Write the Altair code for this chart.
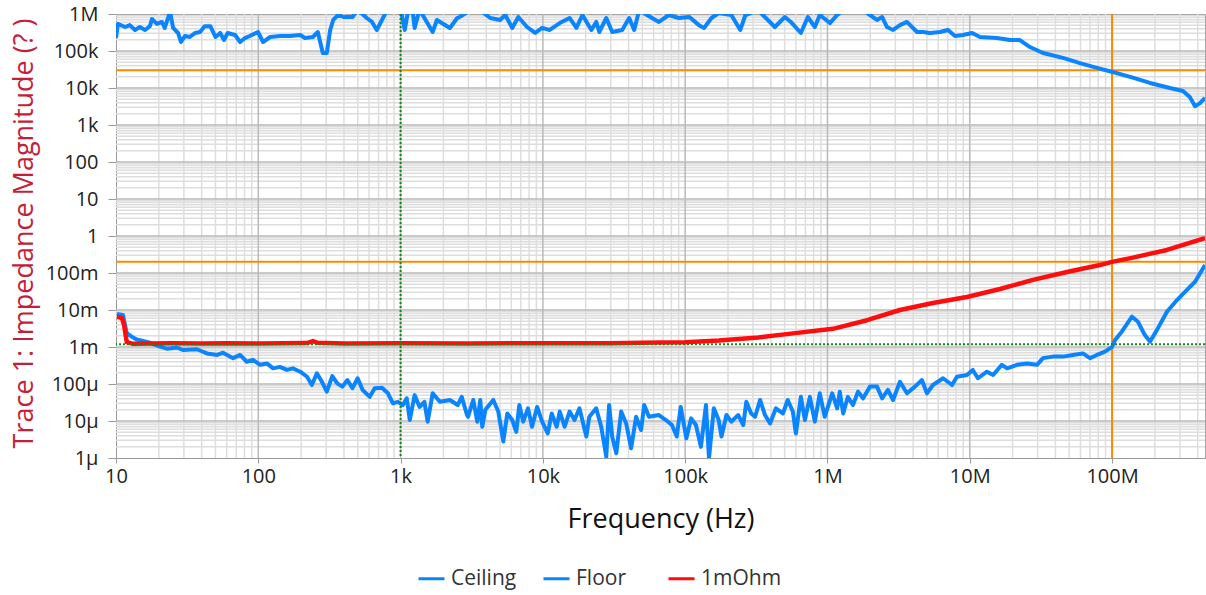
import altair as alt
import pandas as pd

# ---------------- data ----------------
ceil_f = [10, 10.3, 11.6, 12.5, 13.6, 14.7, 16.0, 17.3, 17.9, 19.4, 21, 22, 24, 25.2, 27.3, 28.6,
          30.5, 33, 36, 39, 42, 46, 50, 54, 57.4, 61, 68.7, 74.5, 80.6, 87, 99.5, 108, 121, 142,
          167, 197, 213, 242, 262, 284, 303, 320, 336, 364, 396, 459, 499, 578, 630, 680, 752,
          815, 1000, 1070, 1120, 1210, 1255, 1360, 1680, 1800, 2220, 2500, 2600, 3080, 3630,
          4270, 5000, 5440, 6090, 6720, 7740, 8820, 9880, 11180, 13130, 15400, 17200, 18960,
          21900, 23700, 24900, 27900, 30700, 36100, 40400, 43800, 47500, 58500, 65400, 76700,
          90100, 107000, 125000, 136000, 153000, 172000, 211000, 244000, 265000, 326000, 427000,
          502000, 553000, 650000, 728000, 815000, 883000, 1.04e6, 1.17e6, 1.29e6, 1.78e6, 1.99e6,
          2.23e6, 2.42e6, 2.62e6, 2.89e6, 3.23e6, 3.62e6, 4.26e6, 4.69e6, 5.25e6, 6.18e6, 7.03e6,
          7.87e6, 8.96e6, 1.04e7, 1.18e7, 1.55e7, 1.92e7, 2.25e7, 2.65e7, 3.27e7, 4.52e7, 5.95e7,
          7.83e7, 1.01e8, 1.34e8, 1.85e8, 2.55e8, 3.15e8, 3.52e8, 3.83e8, 4.15e8, 4.5e8]
ceil_v = [2.24e5, 5.4e5, 4.45e5, 5.0e5, 3.7e5, 4.45e5, 3.7e5, 4.7e5, 7.3e5, 5.4e5, 6.1e5, 4.2e5,
          1.15e6, 4.2e5, 3.07e5, 1.75e5, 2.54e5, 2.39e5, 3.07e5, 3.26e5, 4.7e5, 4.7e5, 2.39e5,
          3.07e5, 1.98e5, 3.07e5, 2.7e5, 1.75e5, 2.24e5, 2.54e5, 3.26e5, 1.75e5, 2.39e5, 2.54e5,
          2.54e5, 2.7e5, 2.24e5, 2.39e5, 3.26e5, 8.8e4, 8.8e4, 3.7e5, 6.9e5, 9.4e5, 8.3e5, 8.3e5,
          1.3e6, 7.8e5, 6.1e5, 3.7e5, 7.8e5, 1.4e6, 1.4e6, 3.7e5, 1.0e6, 1.4e6, 4.2e5, 1.3e6,
          3.26e5, 6.9e5, 4.2e5, 7.8e5, 8.3e5, 1.25e6, 1.25e6, 7.8e5, 6.9e5, 9.4e5, 4.2e5, 8.3e5,
          4.45e5, 3.07e5, 4.2e5, 3.7e5, 5.7e5, 7.8e5, 4.2e5, 9.4e5, 3.7e5, 6.1e5, 3.26e5, 7.8e5,
          3.26e5, 3.7e5, 7.8e5, 3.7e5, 1.25e6, 7.8e5, 6.1e5, 9.4e5, 7.8e5, 8.3e5, 5.0e5, 4.2e5,
          7.8e5, 1.06e6, 9.4e5, 3.7e5, 9.4e5, 1.25e6, 4.45e5, 8.3e5, 6.1e5, 3.07e5, 8.3e5, 4.45e5,
          9.4e5, 5.7e5, 9.4e5, 1.25e6, 1.25e6, 9.4e5, 6.9e5, 8.3e5, 4.45e5, 3.7e5, 5.0e5, 6.1e5,
          3.26e5, 3.26e5, 3.07e5, 3.26e5, 3.7e5, 2.54e5, 2.7e5, 3.07e5, 2.39e5, 2.24e5, 1.98e5,
          1.98e5, 1.28e5, 8.8e4, 6.5e4, 4.7e4, 3.5e4, 2.7e4, 2.0e4, 1.37e4, 1.0e4, 8.3e3, 5.7e3,
          3.2e3, 3.9e3, 5.4e3]

floor_f = [10.16, 11.2, 11.9, 12.9, 14.0, 15.5, 17.3, 20.4, 22.8, 26.9, 29.5, 37, 43.6, 51.5, 56.5,
           66.5, 74.5, 83, 91.7, 103, 115, 127, 142, 159, 175, 197, 220, 238, 258, 280, 303, 331,
           359, 390, 423, 459, 499, 541, 607, 658, 740, 815, 883, 957, 1037, 1105, 1160, 1255,
           1360, 1470, 1550, 1680, 1890, 2220, 2520, 2690, 2930, 2980, 3240, 3460, 3630, 3750,
           3940, 4480, 4860, 5270, 5620, 6090, 6500, 6830, 7270, 7860, 8390, 9110, 9880, 10820,
           11540, 12500, 13130, 14220, 15400, 16680, 18070, 20200, 21200, 23700, 25700, 27900,
           29200, 30700, 32800, 35500, 38500, 41700, 45200, 49000, 51500, 55700, 65400, 73200,
           80700, 87300, 93000, 102000, 110000, 119000, 129000, 140000, 147000, 159000, 172000,
           180000, 195000, 211000, 236000, 256000, 269000, 291000, 310000, 336000, 364000, 395000,
           434000, 486000, 526000, 571000, 600000, 650000, 694000, 752000, 815000, 883000, 956000,
           1.08e6, 1.17e6, 1.22e6, 1.29e6, 1.39e6, 1.51e6, 1.64e6, 1.78e6, 1.99e6, 2.23e6, 2.42e6,
           2.66e6, 2.89e6, 3.23e6, 3.62e6, 4.12e6, 4.61e6, 5.0e6, 5.51e6, 6.49e6, 7.5e6, 8.13e6,
           9.55e6, 1.05e7, 1.14e7, 1.32e7, 1.46e7, 1.68e7, 1.83e7, 2.15e7, 2.52e7, 2.97e7, 3.27e7,
           3.84e7, 4.52e7, 5.31e7, 6.24e7, 7.0e7, 7.83e7, 8.91e7, 1.0e8, 1.05e8, 1.17e8, 1.38e8,
           1.52e8, 1.70e8, 1.85e8, 2.07e8, 2.43e8, 2.86e8, 3.36e8, 3.83e8, 4.5e8]
floor_v = [7.8e-3, 7.3e-3, 2.35e-3, 1.9e-3, 1.6e-3, 1.46e-3, 1.3e-3, 1.02e-3, 9.0e-4, 9.7e-4, 8.3e-4,
           8.7e-4, 6.7e-4, 6.1e-4, 7.0e-4, 5.0e-4, 6.1e-4, 4.0e-4, 4.5e-4, 3.3e-4, 3.6e-4, 2.65e-4,
           2.9e-4, 2.4e-4, 2.65e-4, 2.15e-4, 1.57e-4, 9.4e-5, 1.95e-4, 1.15e-4, 6.2e-5, 1.64e-4,
           1.04e-4, 8.5e-5, 1.28e-4, 7.7e-5, 1.43e-4, 6.9e-5, 4.5e-5, 7.7e-5, 7.9e-5, 5.6e-5, 3.0e-5,
           3.3e-5, 2.7e-5, 4.1e-5, 1.06e-5, 5.0e-5, 2.4e-5, 3.3e-5, 9.6e-6, 5.6e-5, 3.3e-5, 3.7e-5,
           2.7e-5, 4.5e-5, 1.45e-5, 1.3e-5, 3.7e-5, 9.6e-6, 3.7e-5, 7.0e-6, 2.0e-5, 3.7e-5, 1.8e-5,
           2.8e-6, 1.6e-5, 1.06e-5, 5.1e-6, 2.7e-5, 9.6e-6, 2.2e-5, 7.0e-6, 2.4e-5, 9.6e-6, 4.6e-6,
           1.6e-5, 7.0e-6, 1.8e-5, 7.0e-6, 1.8e-5, 1.06e-5, 2.2e-5, 3.8e-6, 1.3e-5, 2.2e-5, 7.0e-6,
           1.08e-6, 2.7e-5, 3.8e-6, 1.34e-6, 1.8e-5, 8.6e-6, 1.83e-6, 1.3e-5, 5.7e-6, 2.7e-5, 1.3e-5,
           1.45e-5, 1.06e-5, 7.8e-6, 3.8e-6, 2.4e-5, 3.4e-6, 1.18e-5, 7.8e-6, 2.0e-6, 2.7e-5, 9.8e-7,
           2.2e-5, 1.06e-5, 3.8e-6, 1.45e-5, 9.6e-6, 1.45e-5, 7.8e-6, 3.3e-5, 1.6e-5, 1.3e-5, 3.7e-5,
           1.45e-5, 8.6e-6, 2.2e-5, 1.6e-5, 3.7e-5, 1.8e-5, 4.6e-6, 4.5e-5, 1.06e-5, 4.5e-5, 9.6e-6,
           5.6e-5, 1.3e-5, 5.6e-5, 2.2e-5, 6.2e-5, 1.6e-5, 4.5e-5, 2.7e-5, 6.2e-5, 4.1e-5, 8.5e-5,
           8.5e-5, 4.1e-5, 6.9e-5, 3.7e-5, 1.15e-4, 5.6e-5, 8.5e-5, 1.28e-4, 5.6e-5, 9.4e-5, 1.43e-4,
           9.4e-5, 1.57e-4, 1.75e-4, 2.4e-4, 1.43e-4, 2.15e-4, 1.75e-4, 3.3e-4, 2.65e-4, 3.3e-4,
           3.6e-4, 3.3e-4, 5.0e-4, 5.5e-4, 5.5e-4, 6.1e-4, 6.7e-4, 5.0e-4, 6.1e-4, 7.5e-4, 1.0e-3,
           1.55e-3, 2.6e-3, 6.6e-3, 4.8e-3, 2.1e-3, 1.4e-3, 2.9e-3, 9.0e-3, 1.86e-2, 3.5e-2, 5.8e-2,
           0.164]

ohm_f = [10.16, 11.0, 11.4, 11.9, 13.2, 17.3, 25, 40, 60, 100, 150, 220, 242, 262, 400, 1000,
         3000, 10000, 30000, 50000, 65400, 100000, 172000, 326000, 553000, 1.09e6, 1.9e6, 3.23e6,
         5.51e6, 9.55e6, 1.63e7, 2.78e7, 4.82e7, 8.22e7, 1.0e8, 1.4e8, 2.43e8, 4.5e8]
ohm_v = [6.5e-3, 6.1e-3, 3.9e-3, 1.36e-3, 1.22e-3, 1.24e-3, 1.26e-3, 1.24e-3, 1.27e-3, 1.25e-3,
         1.26e-3, 1.28e-3, 1.45e-3, 1.3e-3, 1.25e-3, 1.26e-3, 1.25e-3, 1.26e-3, 1.26e-3, 1.3e-3,
         1.33e-3, 1.35e-3, 1.5e-3, 1.8e-3, 2.3e-3, 3.1e-3, 5.3e-3, 1.0e-2, 1.55e-2, 2.25e-2,
         3.7e-2, 6.5e-2, 0.106, 0.164, 0.2, 0.26, 0.42, 0.88]

series_names = ["Ceiling", "Floor", "1mOhm"]
series_colors = ["#0a84ff", "#0a84ff", "#ff0d0d"]

orange_h = [3.0e4, 0.2]     # horizontal markers
orange_v = [1.0e8]          # vertical marker
green_h = [1.18e-3]
green_v = [1.0e3]

x_tick_vals = [10, 100, 1e3, 1e4, 1e5, 1e6, 1e7, 1e8]
x_tick_text = ["10", "100", "1k", "10k", "100k", "1M", "10M", "100M"]
y_tick_vals = [1e-6, 1e-5, 1e-4, 1e-3, 1e-2, 1e-1, 1, 10, 100, 1e3, 1e4, 1e5, 1e6]
y_tick_text = ["1µ", "10µ", "100µ", "1m", "10m", "100m", "1", "10", "100", "1k", "10k", "100k", "1M"]

X_DOMAIN = [10, 4.5e8]
Y_DOMAIN = [1e-6, 1e6]

# grid positions (major decades and minor 2..9 steps)
x_major = x_tick_vals[1:]
x_minor = [k * 10 ** d for d in range(1, 9) for k in range(2, 10) if k * 10 ** d <= X_DOMAIN[1]]
y_major = y_tick_vals[1:-1]
y_minor = [k * 10.0 ** d for d in range(-6, 6) for k in range(2, 10)]

# ---------------- build ----------------
FONT = "Open Sans"
X_TITLE = "Frequency (Hz)"
Y_TITLE = "Trace 1: Impedance Magnitude (? )"
xs = alt.Scale(type="log", domain=X_DOMAIN, nice=False)
ys = alt.Scale(type="log", domain=Y_DOMAIN, nice=False)

x_label_expr = "[" + ",".join("'%s'" % t for t in x_tick_text) + "][round(log(datum.value)/LN10) - 1]"
y_label_expr = "[" + ",".join("'%s'" % t for t in y_tick_text) + "][round(log(datum.value)/LN10) + 6]"

x_axis = alt.Axis(values=x_tick_vals, labelExpr=x_label_expr, grid=False,
                  labelFont=FONT, labelFontSize=20, labelColor="#222222",
                  labelPadding=3, tickColor="#9a9a9a", tickSize=5,
                  domainColor="#9a9a9a", labelFlush=False,
                  titleFont=FONT, titleFontSize=27, titleFontWeight="normal",
                  titleColor="#111111", titleY=69, titleBaseline="alphabetic")
y_axis = alt.Axis(values=y_tick_vals, labelExpr=y_label_expr, grid=False,
                  labelFont=FONT, labelFontSize=20, labelColor="#222222",
                  labelPadding=10, tickColor="#9a9a9a", tickSize=8,
                  domainColor="#9a9a9a", labelFlush=False,
                  titleFont=FONT, titleFontSize=27, titleFontWeight="normal",
                  titleColor="#c41e3a", titleX=-92, titleY=219,
                  titleAlign="center", titleBaseline="middle", titleAngle=-90)

df_main = pd.concat([
    pd.DataFrame({"freq": ceil_f, "mag": ceil_v, "series": "Ceiling"}),
    pd.DataFrame({"freq": floor_f, "mag": floor_v, "series": "Floor"}),
])
df_red = pd.DataFrame({"freq": ohm_f, "mag": ohm_v, "series": "1mOhm"})


def vrules(vals, color, width, dash=None):
    kw = {"strokeDash": dash} if dash else {}
    return alt.Chart(pd.DataFrame({"freq": vals})).mark_rule(color=color, strokeWidth=width, **kw).encode(
        x=alt.X("freq:Q", scale=xs, axis=x_axis, title=X_TITLE))


def hrules(vals, color, width, dash=None):
    kw = {"strokeDash": dash} if dash else {}
    return alt.Chart(pd.DataFrame({"mag": vals})).mark_rule(color=color, strokeWidth=width, **kw).encode(
        y=alt.Y("mag:Q", scale=ys, axis=y_axis, title=Y_TITLE))


color_enc = alt.Color("series:N", scale=alt.Scale(domain=series_names, range=series_colors),
                      legend=alt.Legend(title=None, orient="none", legendX=301, legendY=550,
                                        direction="horizontal", columns=3, gridAlign="all",
                                        columnPadding=5, symbolType="stroke", symbolSize=676,
                                        symbolStrokeWidth=3, labelFont=FONT, labelFontSize=21,
                                        labelColor="#333333", labelOffset=5, padding=0))

x_enc = alt.X("freq:Q", scale=xs, axis=x_axis, title=X_TITLE)
y_enc = alt.Y("mag:Q", scale=ys, axis=y_axis, title=Y_TITLE)

blue_lines = alt.Chart(df_main).mark_line(strokeWidth=4, clip=True, strokeJoin="round").encode(
    x=x_enc, y=y_enc, color=color_enc)
red_line = alt.Chart(df_red).mark_line(strokeWidth=4.5, clip=True, strokeJoin="round").encode(
    x=x_enc, y=y_enc, color=color_enc)

chart = alt.layer(
    vrules(x_minor, "#dedede", 1.5),
    hrules(y_minor, "#dedede", 1.5),
    vrules(x_major, "#b9b9b9", 1.5),
    hrules(y_major, "#b9b9b9", 1.5),
    hrules(orange_h, "#ff8a00", 2),
    vrules(orange_v, "#ff8a00", 2),
    blue_lines,
    red_line,
    vrules(green_v, "#138a13", 2, [2, 2]),
    hrules(green_h, "#138a13", 2, [2, 2]),
).properties(
    width=1089, height=444,
    autosize=alt.AutoSizeParams(type="none"),
    padding={"left": 116, "top": 14, "right": 1, "bottom": 137},
    background="white",
).configure_view(stroke="#a6a6a6", strokeWidth=1)

chart.save("out.html", embed_options={"renderer": "svg", "actions": False})
